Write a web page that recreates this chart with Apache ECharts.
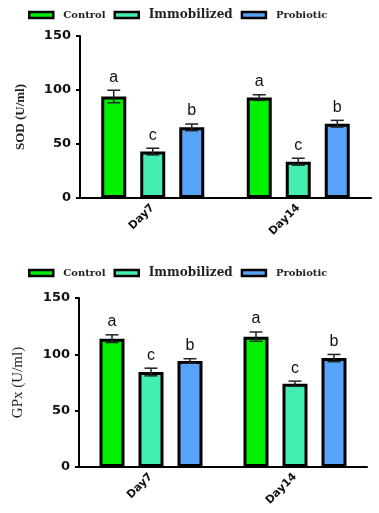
<!DOCTYPE html>
<html><head><meta charset="utf-8">
<script src="https://cdn.jsdelivr.net/npm/echarts@6/dist/echarts.min.js"></script>
<style>html,body{margin:0;padding:0;background:#fff}#c{width:379px;height:513px}</style>
</head><body><div id="c"></div>
<script>
const categories = ['Day7', 'Day14'];
const groups = ['Control', 'Immobilized', 'Probiotic'];
const colors = ['#00f000', '#44eeb0', '#58a2fa'];
const yTicksMin = 0, yTicksMax = 150, yTickStep = 50;

const sodControl = [94, 93];
const sodControlErr = [5.8, 2.6];
const sodImmobilized = [43, 33.6];
const sodImmobilizedErr = [3.1, 3.2];
const sodProbiotic = [65.4, 68.8];
const sodProbioticErr = [3.1, 3.1];
const sodLetters = [['a', 'a'], ['c', 'c'], ['b', 'b']];

const gpxControl = [113.9, 115.7];
const gpxControlErr = [3.4, 4.1];
const gpxImmobilized = [84.3, 74];
const gpxImmobilizedErr = [3.4, 2.2];
const gpxProbiotic = [94.1, 96.7];
const gpxProbioticErr = [2, 3.2];
const gpxLetters = [['a', 'a'], ['c', 'c'], ['b', 'b']];

const chart = echarts.init(document.getElementById('c'), null, {renderer: 'canvas'});

const BAR_W = 25, OFFS = [-39, 0, 39];

function barSeries(name, idx, values, color) {
  return {
    name: name, type: 'bar', xAxisIndex: idx, yAxisIndex: idx,
    data: values, barWidth: BAR_W, barGap: '56%', barCategoryGap: '28%',
    itemStyle: {color: color, borderColor: '#000', borderWidth: 3},
    emphasis: {disabled: true}, z: 2
  };
}
function errSeries(idx, means, errs, letters, offset) {
  return {
    type: 'custom', xAxisIndex: idx, yAxisIndex: idx, z: 10, silent: true,
    data: means.map((m, i) => [i, m, errs[i]]),
    renderItem: function (params, api) {
      const ci = api.value(0), m = api.value(1), e = api.value(2);
      const x = api.coord([ci, m])[0] + offset;
      const top = api.coord([ci, m + e])[1];
      const bot = api.coord([ci, m - e])[1];
      const st = {stroke: '#222', lineWidth: 1.5};
      return {type: 'group', children: [
        {type: 'line', shape: {x1: x, y1: top, x2: x, y2: bot}, style: st},
        {type: 'line', shape: {x1: x - 6.5, y1: top, x2: x + 6.5, y2: top}, style: st},
        {type: 'line', shape: {x1: x - 6.5, y1: bot, x2: x + 6.5, y2: bot}, style: st},
        {type: 'text', x: x, y: top - 13, style: {text: letters[params.dataIndex], align: 'center', verticalAlign: 'middle', font: '16px "Liberation Sans"', fill: '#111'}}
      ]};
    }
  };
}
function legendCfg(top) {
  return {
    top: top, left: 28, padding: 0, itemWidth: 24, itemHeight: 6, itemGap: 8,
    icon: 'rect', selectedMode: false,
    itemStyle: {borderColor: '#000', borderWidth: 2.5},
    textStyle: {fontFamily: '"DejaVu Serif"', fontWeight: 'bold', fontSize: 10, color: '#222', padding: [0, 0, 0, 5]},
    data: [
      {name: groups[0]},
      {name: groups[1], textStyle: {fontSize: 12}},
      {name: groups[2]}
    ]
  };
}
function xAxisCfg(idx) {
  return {
    type: 'category', gridIndex: idx, data: categories,
    axisLine: {lineStyle: {color: '#000', width: 2}},
    axisTick: {alignWithLabel: true, length: 4, lineStyle: {color: '#000', width: 2}},
    axisLabel: {rotate: 45, margin: 8, color: '#111', fontFamily: '"DejaVu Sans"', fontWeight: 'bold', fontSize: 11}
  };
}
function yAxisCfg(idx, name, nameFont) {
  return {
    type: 'value', gridIndex: idx, min: yTicksMin, max: yTicksMax, interval: yTickStep,
    name: name, nameLocation: 'middle', nameGap: 53,
    nameTextStyle: nameFont,
    axisLine: {show: true, lineStyle: {color: '#000', width: 2}},
    axisTick: {show: true, length: 4, lineStyle: {color: '#000', width: 2}},
    splitLine: {show: false},
    axisLabel: {margin: 9, color: '#111', fontFamily: '"DejaVu Sans"', fontWeight: 'bold', fontSize: 13}
  };
}

const option = {
  animation: false,
  backgroundColor: '#fff',
  legend: [legendCfg(9), legendCfg(267)],
  grid: [
    {left: 80, top: 36, right: 8, height: 162},
    {left: 79, top: 298, right: 12, height: 169}
  ],
  xAxis: [xAxisCfg(0), xAxisCfg(1)],
  yAxis: [
    yAxisCfg(0, 'SOD (U/ml)', {fontFamily: '"Liberation Serif"', fontWeight: 'bold', fontSize: 13, color: '#222'}),
    yAxisCfg(1, 'GPx (U/ml)', {fontFamily: '"Liberation Serif"', fontWeight: 'normal', fontSize: 15, color: '#222'})
  ],
  series: [
    barSeries(groups[0], 0, sodControl, colors[0]),
    barSeries(groups[1], 0, sodImmobilized, colors[1]),
    barSeries(groups[2], 0, sodProbiotic, colors[2]),
    barSeries(groups[0], 1, gpxControl, colors[0]),
    barSeries(groups[1], 1, gpxImmobilized, colors[1]),
    barSeries(groups[2], 1, gpxProbiotic, colors[2]),
    errSeries(0, sodControl, sodControlErr, sodLetters[0], OFFS[0]),
    errSeries(0, sodImmobilized, sodImmobilizedErr, sodLetters[1], OFFS[1]),
    errSeries(0, sodProbiotic, sodProbioticErr, sodLetters[2], OFFS[2]),
    errSeries(1, gpxControl, gpxControlErr, gpxLetters[0], OFFS[0]),
    errSeries(1, gpxImmobilized, gpxImmobilizedErr, gpxLetters[1], OFFS[1]),
    errSeries(1, gpxProbiotic, gpxProbioticErr, gpxLetters[2], OFFS[2])
  ]
};
chart.setOption(option);
</script></body></html>
